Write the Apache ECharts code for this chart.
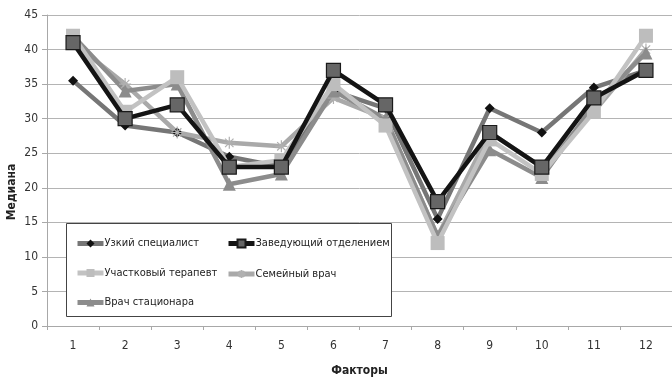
<!DOCTYPE html>
<html>
<head>
<meta charset="utf-8">
<script src="https://cdn.jsdelivr.net/npm/echarts@6/dist/echarts.min.js"></script>
<style>
  html, body { margin: 0; padding: 0; background: #fff; }
  #chart { width: 672px; height: 382px; }
</style>
</head>
<body>
<div id="chart"></div>
<script>
// Factor numbers along the x axis
const factors = ['1', '2', '3', '4', '5', '6', '7', '8', '9', '10', '11', '12'];

// Median score per factor for each respondent group
const uzkiy        = [35.5, 29, 28, 24.5, 23, 34, 31.5, 15.5, 31.5, 28, 34.5, 37];
const zaveduyushiy = [41, 30, 32, 23, 23, 37, 32, 18, 28, 23, 33, 37];
const uchastkovyy  = [42, 31, 36, 23, 24, 35, 29, 12, 27, 22, 31, 42];
const semeynyy     = [41, 35, 28, 26.5, 26, 33, 30, 13, 28, 23, 31, 40];
const statsionar   = [42, 34, 35, 20.5, 22, 34, 30, 13, 25.5, 21.5, 32, 39.5];

const seriesNames = ['Узкий специалист', 'Заведующий отделением', 'Участковый терапевт', 'Семейный врач', 'Врач стационара'];

const FONT = '"Liberation Sans Narrow", "DejaVu Sans Condensed", "Open Sans", sans-serif';

// Eight-spoke asterisk used for the family doctor markers
const asterisk = 'path://M10,0 L10,20 M0,10 L20,10 M3,3 L17,17 M17,3 L3,17';

function lineSeries(name, data, lineColor, symbol, size, fill, border, z) {
  return {
    name, type: 'line', data, z,
    symbol, symbolSize: size,
    lineStyle: { color: lineColor, width: 4.5 },
    itemStyle: { color: fill, borderColor: border, borderWidth: border === fill ? 0 : 1.2 },
    emphasis: { disabled: true },
    animation: false
  };
}

const legendCommon = {
  orient: 'vertical', top: 238, padding: 0,
  itemWidth: 26, itemHeight: 10, itemGap: 18.5,
  textStyle: { fontFamily: FONT, fontSize: 11, color: '#222', padding: [0, 0, 0, -4] },
  lineStyle: { width: 5 },
  selectedMode: false, z: 10
};

const chart = echarts.init(document.getElementById('chart'), null, { renderer: 'canvas' });

chart.setOption({
  backgroundColor: '#fff',
  animation: false,
  grid: { left: 47, top: 15, right: -5, bottom: 48 },
  xAxis: {
    type: 'category',
    data: factors,
    boundaryGap: true,
    name: 'Факторы',
    nameLocation: 'middle',
    nameGap: 39,
    nameTextStyle: { fontFamily: FONT, fontSize: 12, fontWeight: 'bold', color: '#222' },
    axisLine: { lineStyle: { color: '#a8a8a8', width: 1 } },
    axisTick: { show: true, length: 4, lineStyle: { color: '#a8a8a8' } },
    axisLabel: { fontFamily: FONT, fontSize: 12, color: '#333', margin: 14 },
    splitLine: { show: false }
  },
  yAxis: {
    type: 'value',
    min: 0, max: 45, interval: 5,
    axisLine: { show: true, lineStyle: { color: '#a8a8a8', width: 1 } },
    axisTick: { show: true, inside: false, length: 5, lineStyle: { color: '#a8a8a8' } },
    axisLabel: { fontFamily: FONT, fontSize: 12, color: '#333', margin: 9 },
    splitLine: { lineStyle: { color: '#b4b4b4', width: 1 } }
  },
  legend: [
    Object.assign({ data: [seriesNames[0], seriesNames[2], seriesNames[4]], left: 75 }, legendCommon),
    Object.assign({ data: [seriesNames[1], seriesNames[3]], left: 226 }, legendCommon)
  ],
  graphic: [
    {
      type: 'rect', z: 8,
      shape: { x: 66.5, y: 223.5, width: 325, height: 93 },
      style: { fill: '#fff', stroke: '#444', lineWidth: 1 }
    },
    {
      type: 'text', z: 8,
      x: 6, y: 192, rotation: Math.PI / 2,
      style: {
        text: 'Медиана', fontFamily: FONT, fontSize: 12, fontWeight: 'bold',
        fill: '#222', align: 'center', verticalAlign: 'top'
      }
    }
  ],
  series: [
    lineSeries(seriesNames[0], uzkiy, '#767676', 'diamond', 10, '#111', '#111', 3),
    lineSeries(seriesNames[1], zaveduyushiy, '#141414', 'rect', 14, '#666', '#1a1a1a', 5),
    lineSeries(seriesNames[2], uchastkovyy, '#c2c2c2', 'rect', 14, '#bdbdbd', '#bdbdbd', 4),
    lineSeries(seriesNames[3], semeynyy, '#a9a9a9', asterisk, 12, 'none', '#b0b0b0', 3),
    lineSeries(seriesNames[4], statsionar, '#8c8c8c', 'triangle', 13, '#8c8c8c', '#8c8c8c', 3)
  ]
});
</script>
</body>
</html>
